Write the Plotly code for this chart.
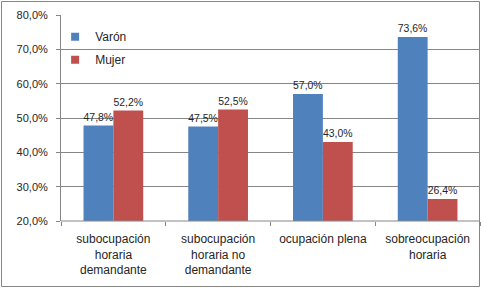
import plotly.graph_objects as go

categories = ["subocupación<br>horaria<br>demandante", "subocupación<br>horaria no<br>demandante",
              "ocupación plena", "sobreocupación<br>horaria"]
varon = [0.478, 0.475, 0.570, 0.736]
mujer = [0.522, 0.525, 0.430, 0.264]
series_names = ["Varón", "Mujer"]
colors = ["#4F81BD", "#C0504D"]

FONT = "Liberation Sans"
fig = go.Figure()
for name, vals, col in zip(series_names, [varon, mujer], colors):
    fig.add_trace(go.Bar(
        x=categories, y=vals, name=name, marker_color=col,
        marker_line_width=0, showlegend=False,
        text=[f"{v*100:.1f}%".replace(".", ",") for v in vals],
        textposition="outside", cliponaxis=False,
        textfont=dict(family=FONT, size=11, color="#262626"),
    ))
for name, col in zip(series_names, colors):
    fig.add_trace(go.Scatter(
        x=[None], y=[None], mode="markers", name=name, legendgroup=name,
        marker=dict(symbol="square", size=8, color=col),
    ))

W, H = 481, 288
L, R, T, B = 61, 1, 15, 67
pw, ph = W - L - R, H - T - B
fig.update_layout(
    width=W, height=H, margin=dict(l=L, r=R, t=T, b=B, autoexpand=False),
    paper_bgcolor="white", plot_bgcolor="white",
    separators=",.",
    barmode="group", bargap=0.43, bargroupgap=0,
    font=dict(family=FONT, size=11, color="#262626"),
    showlegend=True,
    legend=dict(x=-0.014, y=0.965, xanchor="left", yanchor="top",
                font=dict(family=FONT, size=12, color="#262626"),
                bgcolor="rgba(0,0,0,0)", tracegroupgap=4, itemwidth=30),
    xaxis=dict(showgrid=False, showline=False, ticks="outside", tickson="boundaries",
               ticklen=4, tickcolor="#868686", automargin=False, ticklabelstandoff=9,
               tickfont=dict(family=FONT, size=12, color="#262626")),
    yaxis=dict(range=[0.2, 0.8], dtick=0.1, tickformat=".1%", automargin=False,
               showgrid=True, gridcolor="#868686", gridwidth=1,
               showline=True, linecolor="#868686", linewidth=1,
               ticks="outside", ticklen=4, tickcolor="#868686", ticklabelstandoff=6,
               tickfont=dict(family=FONT, size=11, color="#262626")),
    shapes=[
        dict(type="line", xref="paper", yref="paper", x0=0, x1=1, y0=0, y1=0,
             line=dict(color="#868686", width=1)),
        dict(type="rect", xref="paper", yref="paper",
             x0=(1.5 - L) / pw, x1=(W - 1.5 - L) / pw,
             y0=-(H - 1.5 - T - ph) / ph, y1=(ph + T - 1.5) / ph,
             line=dict(color="#868686", width=1), layer="above"),
    ],
)
fig.write_html("out.html", config={"displayModeBar": False},
               post_script="document.body.style.margin='0';document.body.style.overflow='hidden';")
